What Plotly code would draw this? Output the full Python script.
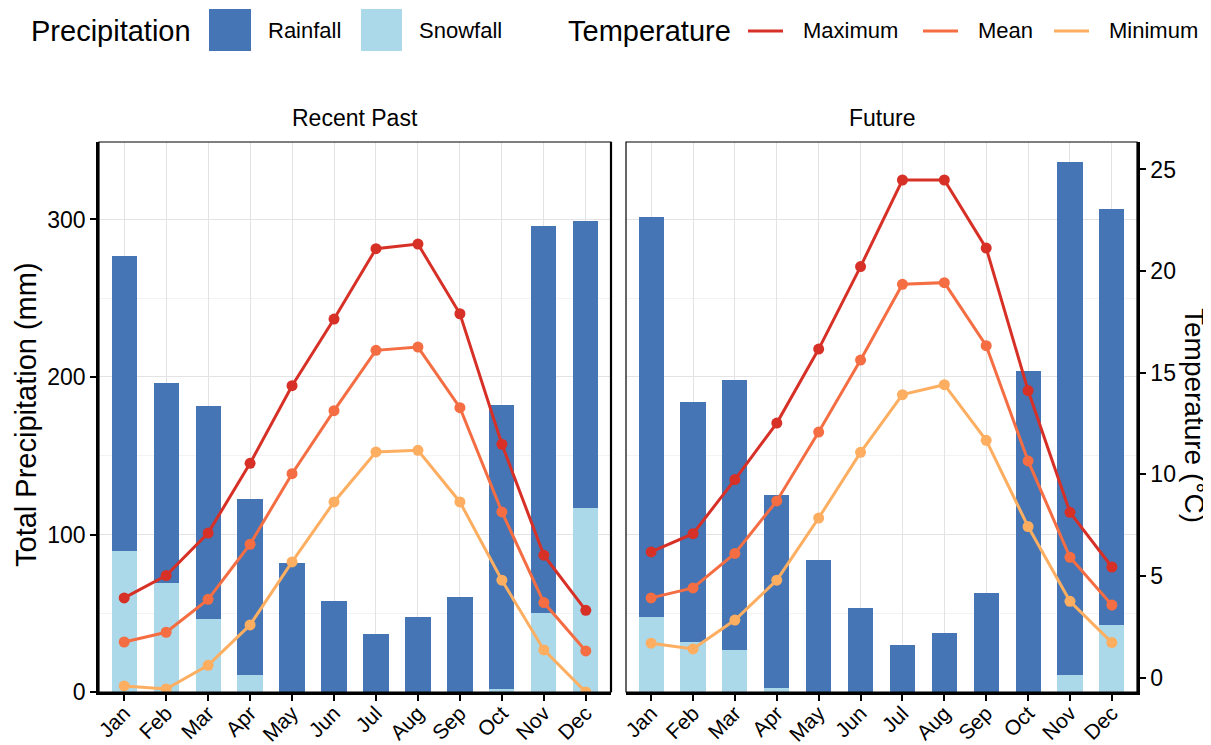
import plotly.graph_objects as go

# ---------------- data ----------------
months = ["Jan", "Feb", "Mar", "Apr", "May", "Jun", "Jul", "Aug", "Sep", "Oct", "Nov", "Dec"]

# Recent Past (mm)
past_rain = [187.4, 127.4, 135.2, 111.9, 82.2, 57.9, 36.9, 47.7, 60.2, 180.8, 245.4, 182.0]
past_snow = [89.6, 69.0, 46.6, 10.8, 0, 0, 0, 0, 0, 1.7, 50.4, 116.8]
# Recent Past temperature (°C)
past_tmax = [3.92, 5.02, 7.11, 10.54, 14.36, 17.64, 21.10, 21.33, 17.90, 11.48, 6.02, 3.31]
past_tmean = [1.75, 2.23, 3.85, 6.56, 10.03, 13.13, 16.10, 16.26, 13.28, 8.15, 3.69, 1.31]
past_tmin = [-0.41, -0.56, 0.60, 2.59, 5.69, 8.64, 11.10, 11.18, 8.64, 4.79, 1.36, -0.71]

# Future (mm)
fut_rain = [254.1, 152.3, 171.6, 122.5, 83.9, 53.6, 30.1, 37.3, 62.8, 203.9, 326.1, 263.6]
fut_snow = [47.7, 31.6, 26.7, 2.5, 0, 0, 0, 0, 0, 0, 10.6, 42.8]
# Future temperature (°C)
fut_tmax = [6.18, 7.08, 9.74, 12.52, 16.16, 20.22, 24.48, 24.48, 21.13, 14.12, 8.13, 5.44]
fut_tmean = [3.92, 4.41, 6.11, 8.69, 12.08, 15.62, 19.35, 19.43, 16.33, 10.66, 5.92, 3.57]
fut_tmin = [1.69, 1.41, 2.83, 4.79, 7.85, 11.08, 13.92, 14.41, 11.67, 7.43, 3.75, 1.72]

panel_titles = ["Recent Past", "Future"]
precip_ticks = [0, 100, 200, 300]
temp_ticks = [0, 5, 10, 15, 20, 25]

# ---------------- style ----------------
C_RAIN = "#4575b4"
C_SNOW = "#abd9e9"
C_MAX = "#d73027"
C_MEAN = "#f46d43"
C_MIN = "#fdae61"
FONT = "Liberation Sans, Arial, sans-serif"

# the page body has an 8px default margin: the figure is made 8px smaller
# and all target pixel positions are shifted by 8px
OFF = 8
W, H = 1211 - OFF, 745 - OFF
ML, MR, MT, MB = 99 - OFF, 74, 142 - OFF, 53
PW = W - ML - MR
PH = H - MT - MB


def px_x(x):
    return (x - OFF - ML) / PW


def px_y(y):
    return (H - MB - (y - OFF)) / PH


P_RANGE = [0, 349.2]
T_RANGE = [-0.71, 26.35]

fig = go.Figure()

panels = [
    ("x", "y", "y3", past_rain, past_snow, past_tmax, past_tmean, past_tmin),
    ("x2", "y2", "y4", fut_rain, fut_snow, fut_tmax, fut_tmean, fut_tmin),
]

for xa, ya, ta, rain, snow, tmax, tmean, tmin in panels:
    fig.add_trace(go.Bar(x=months, y=snow, marker=dict(color=C_SNOW, line=dict(width=0)),
                         width=0.6, xaxis=xa, yaxis=ya, showlegend=False, name="Snowfall"))
    fig.add_trace(go.Bar(x=months, y=rain, marker=dict(color=C_RAIN, line=dict(width=0)),
                         width=0.6, xaxis=xa, yaxis=ya, showlegend=False, name="Rainfall"))
    for vals, col, nm in [(tmin, C_MIN, "Minimum"), (tmean, C_MEAN, "Mean"), (tmax, C_MAX, "Maximum")]:
        fig.add_trace(go.Scatter(x=months, y=vals, mode="lines+markers",
                                 line=dict(color=col, width=3),
                                 marker=dict(color=col, size=11),
                                 xaxis=xa, yaxis=ta, showlegend=False, name=nm))

d1 = [0, px_x(611)]
d2 = [px_x(626), 1]

TICKFONT = dict(size=23, color="black", family=FONT)
MONTHFONT = dict(size=21, color="black", family=FONT)

xcommon = dict(type="category", categoryorder="array", categoryarray=months,
               range=[-0.6, 11.6], showgrid=True, gridcolor="#e3e3e3", gridwidth=1,
               ticks="outside", ticklen=6, tickwidth=1.5, tickcolor="black",
               tickangle=-45, tickfont=MONTHFONT, ticklabelstandoff=-8, automargin=False,
               showline=True, linewidth=2.5, linecolor="black", zeroline=False)

ycommon = dict(range=P_RANGE, showgrid=True, gridcolor="#e3e3e3", gridwidth=1,
               tickvals=precip_ticks, zeroline=False, automargin=False,
               minor=dict(tickvals=[50, 150, 250], showgrid=True, gridcolor="#f3f3f3", gridwidth=1))

fig.update_layout(
    width=W, height=H,
    margin=dict(l=ML, r=MR, t=MT, b=MB, autoexpand=False),
    paper_bgcolor="white", plot_bgcolor="white",
    barmode="stack", bargap=0.4,
    showlegend=False,
    font=dict(family=FONT, color="black"),
    xaxis=dict(domain=d1, anchor="y", **xcommon),
    xaxis2=dict(domain=d2, anchor="y2", **xcommon),
    yaxis=dict(domain=[0, 1], anchor="x", ticks="outside", ticklen=6, tickwidth=1.5,
               tickcolor="black", tickfont=TICKFONT,
               showline=True, linewidth=2.5, linecolor="black", **ycommon),
    yaxis2=dict(domain=[0, 1], anchor="x2", showticklabels=False, ticks="", showline=False, **ycommon),
    yaxis3=dict(range=T_RANGE, overlaying="y", anchor="x", visible=False, showgrid=False, automargin=False),
    yaxis4=dict(range=T_RANGE, overlaying="y2", anchor="x2", side="right", showgrid=False,
                tickvals=temp_ticks, ticks="outside", ticklen=6, tickwidth=1.5, tickcolor="black",
                tickfont=TICKFONT, automargin=False,
                showline=True, linewidth=2.5, linecolor="black", zeroline=False),
)

shapes = []
# panel borders
for xr, yr in [("x domain", "y domain"), ("x2 domain", "y2 domain")]:
    shapes.append(dict(type="rect", xref=xr, yref=yr, x0=0, x1=1, y0=0, y1=1,
                       line=dict(color="black", width=1.2), fillcolor="rgba(0,0,0,0)", layer="above"))
shapes.append(dict(type="line", xref="x domain", yref="y domain", x0=1, x1=1, y0=0, y1=1,
                   line=dict(color="black", width=2.2), layer="above"))

annotations = []
# strip titles
for xr, t in [("x domain", panel_titles[0]), ("x2 domain", panel_titles[1])]:
    annotations.append(dict(xref=xr, yref="paper", x=0.5, y=px_y(118), text=t, showarrow=False,
                            font=dict(size=23, color="black", family=FONT), xanchor="center", yanchor="middle"))
# axis titles
annotations.append(dict(xref="paper", yref="paper", x=px_x(26), y=px_y(415), text="Total Precipitation (mm)",
                        textangle=-90, showarrow=False, font=dict(size=29, color="black", family=FONT),
                        xanchor="center", yanchor="middle"))
annotations.append(dict(xref="paper", yref="paper", x=px_x(1195), y=px_y(415), text="Temperature (°C)",
                        textangle=90, showarrow=False, font=dict(size=28, color="black", family=FONT),
                        xanchor="center", yanchor="middle"))

# custom legend
LY = 31
annotations.append(dict(xref="paper", yref="paper", x=px_x(29), y=px_y(LY), text="Precipitation",
                        showarrow=False, font=dict(size=29, color="black", family=FONT),
                        xanchor="left", yanchor="middle"))
annotations.append(dict(xref="paper", yref="paper", x=px_x(566), y=px_y(LY), text="Temperature",
                        showarrow=False, font=dict(size=29, color="black", family=FONT),
                        xanchor="left", yanchor="middle"))
for x0, x1, col, lab, tx in [(209, 251, C_RAIN, "Rainfall", 266), (361, 402, C_SNOW, "Snowfall", 417)]:
    shapes.append(dict(type="rect", xref="paper", yref="paper", x0=px_x(x0), x1=px_x(x1),
                       y0=px_y(51), y1=px_y(9), fillcolor=col, line=dict(width=0)))
    annotations.append(dict(xref="paper", yref="paper", x=px_x(tx), y=px_y(LY), text=lab,
                            showarrow=False, font=dict(size=22, color="black", family=FONT),
                            xanchor="left", yanchor="middle"))
for x0, x1, col, lab, tx in [(748, 783, C_MAX, "Maximum", 801), (923, 958, C_MEAN, "Mean", 976),
                             (1054, 1089, C_MIN, "Minimum", 1107)]:
    shapes.append(dict(type="line", xref="paper", yref="paper", x0=px_x(x0), x1=px_x(x1),
                       y0=px_y(LY), y1=px_y(LY), line=dict(color=col, width=3)))
    annotations.append(dict(xref="paper", yref="paper", x=px_x(tx), y=px_y(LY), text=lab,
                            showarrow=False, font=dict(size=22, color="black", family=FONT),
                            xanchor="left", yanchor="middle"))

fig.update_layout(shapes=shapes, annotations=annotations)

fig.write_html("out.html")
